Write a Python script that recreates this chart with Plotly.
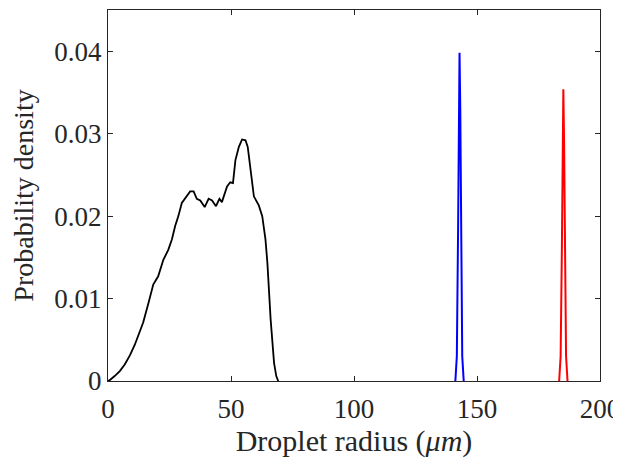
import plotly.graph_objects as go

# Black distribution (droplet radius in um, probability density)
black_r = [0.0, 0.7, 2.7, 4.8, 6.8, 8.9, 10.9, 12.6, 14.3, 16.4, 18.4, 20.4, 22.5, 24.5, 26.0, 27.3,
           28.6, 30.0, 32.0, 33.4, 34.8, 36.1, 37.5, 39.3, 40.9, 42.3, 43.9, 45.3, 46.3, 48.4,
           49.7, 50.8, 51.8, 53.2, 54.5, 55.9, 56.8, 57.9, 59.3, 61.3, 62.7, 64.0, 64.8,
           66.1, 67.5, 68.4, 69.2]
black_p = [0.0, 0.0001, 0.0006, 0.0012, 0.0020, 0.0031, 0.0044, 0.0057, 0.0071, 0.0094, 0.0117,
           0.0127, 0.0147, 0.0159, 0.0172, 0.0188, 0.0200, 0.0216, 0.0224, 0.0230, 0.0230,
           0.0221, 0.0219, 0.0211, 0.0221, 0.0219, 0.0212, 0.0221, 0.0217, 0.0236, 0.0241,
           0.0240, 0.0268, 0.0284, 0.0293, 0.0292, 0.0284, 0.0256, 0.0224, 0.0213, 0.0200,
           0.0172, 0.0143, 0.0075, 0.0022, 0.0006, 0.0]

blue_r = [141.2, 141.8, 142.3, 142.6, 142.9, 143.2, 143.5, 144.0, 144.6]
blue_p = [0.0, 0.003, 0.018, 0.033, 0.0398, 0.033, 0.018, 0.003, 0.0]

red_r = [183.4, 184.0, 184.5, 184.8, 185.1, 185.4, 185.7, 186.2, 186.8]
red_p = [0.0, 0.003, 0.016, 0.029, 0.0354, 0.029, 0.016, 0.003, 0.0]

x_ticks = [0, 50, 100, 150, 200]
y_ticks = [0, 0.01, 0.02, 0.03, 0.04]
y_tick_text = ["0", "0.01", "0.02", "0.03", "0.04"]

FONT = "Liberation Serif"

fig = go.Figure()
fig.add_trace(go.Scatter(x=black_r, y=black_p, mode="lines",
                         line=dict(color="black", width=1.8), showlegend=False))
fig.add_trace(go.Scatter(x=blue_r, y=blue_p, mode="lines",
                         line=dict(color="#0000ff", width=2), showlegend=False))
fig.add_trace(go.Scatter(x=red_r, y=red_p, mode="lines",
                         line=dict(color="#ff0000", width=2), showlegend=False))

axis_common = dict(showline=True, linecolor="#262626", linewidth=1.3, mirror="allticks",
                   ticks="inside", ticklen=5, tickwidth=1.3, tickcolor="#262626",
                   showgrid=False, zeroline=False, automargin=False,
                   tickfont=dict(family=FONT, size=27, color="#262626"))

# The page body has an 8px default offset; margins compensate for it.
fig.update_layout(
    width=621, height=459,
    margin=dict(l=100, r=29, t=2, b=86),
    paper_bgcolor="white", plot_bgcolor="white",
    xaxis=dict(range=[0, 200], tickvals=x_ticks, ticklabelstandoff=3,
               title=dict(text="Droplet radius (<i>μm</i>)", standoff=5,
                          font=dict(family=FONT, size=30, color="#262626")),
               **axis_common),
    yaxis=dict(range=[0, 0.045], tickvals=y_ticks, ticktext=y_tick_text,
               title=dict(text="Probability density", standoff=14,
                          font=dict(family=FONT, size=28, color="#262626")),
               **axis_common),
)

fig.write_html("out.html")
